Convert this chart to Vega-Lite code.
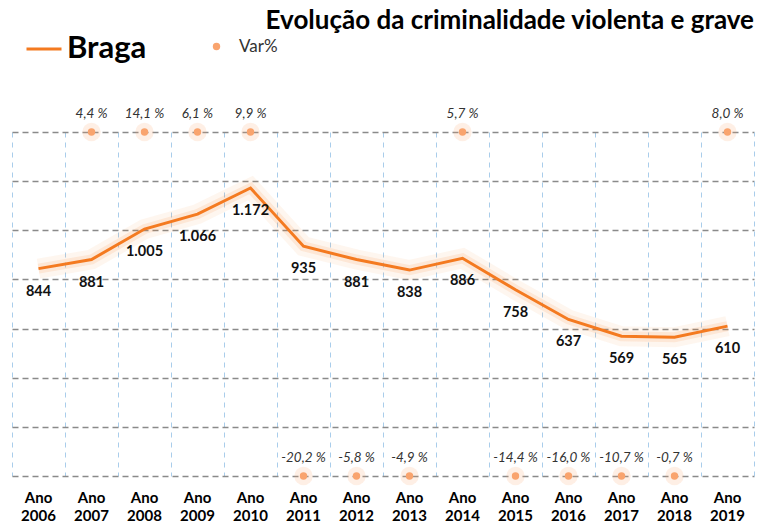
{
  "$schema": "https://vega.github.io/schema/vega-lite/v6.json",
  "width": 742,
  "height": 344,
  "autosize": "none",
  "padding": {"left": 12, "top": 132, "right": 6, "bottom": 49},
  "background": "white",
  "config": {"font": "Lato", "view": {"stroke": null}},
  "title": {"text": "Evolução da criminalidade violenta e grave", "anchor": "end", "frame": "group", "fontSize": 26, "fontWeight": "bold", "color": "#000", "font": "Lato", "offset": -4},
  "data": {"values": [
    {"year": "2006", "value": 844, "var": null},
    {"year": "2007", "value": 881, "var": 4.4},
    {"year": "2008", "value": 1005, "var": 14.1},
    {"year": "2009", "value": 1066, "var": 6.1},
    {"year": "2010", "value": 1172, "var": 9.9},
    {"year": "2011", "value": 935, "var": -20.2},
    {"year": "2012", "value": 881, "var": -5.8},
    {"year": "2013", "value": 838, "var": -4.9},
    {"year": "2014", "value": 886, "var": 5.7},
    {"year": "2015", "value": 758, "var": -14.4},
    {"year": "2016", "value": 637, "var": -16.0},
    {"year": "2017", "value": 569, "var": -10.7},
    {"year": "2018", "value": 565, "var": -0.7},
    {"year": "2019", "value": 610, "var": 8.0}
  ]},
  "resolve": {"scale": {"y": "independent"}, "axis": {"x": "independent", "y": "independent"}},
  "layer": [
    {
      "mark": {"type": "line", "stroke": "#F47A20", "strokeWidth": 20, "opacity": 0.07},
      "encoding": {
        "x": {"field": "year", "type": "ordinal", "scale": {"type": "band", "paddingInner": 0, "paddingOuter": 0},
          "axis": {"orient": "bottom", "bandPosition": 0, "grid": true, "gridColor": "#A9CDEB", "gridDash": [5, 5], "gridWidth": 1, "labels": false, "ticks": false, "domain": false, "title": null}},
        "y": {"field": "value", "type": "quantitative", "scale": {"domain": [0, 1400]},
          "axis": {"orient": "left", "values": [0, 200, 400, 600, 800, 1000, 1200, 1400], "grid": true, "gridColor": "#8a8a8a", "gridDash": [6, 4], "gridWidth": 1.3, "labels": false, "ticks": false, "domain": false, "title": null}}
      }
    },
    {
      "mark": {"type": "line", "stroke": "#F47A20", "strokeWidth": 10, "opacity": 0.12},
      "encoding": {
        "x": {"field": "year", "type": "ordinal", "axis": null},
        "y": {"field": "value", "type": "quantitative", "scale": {"domain": [0, 1400]},
          "axis": {"orient": "right", "values": [0], "labels": false, "ticks": false, "grid": false, "domain": true, "domainColor": "#A9CDEB", "domainDash": [5, 5], "domainWidth": 1, "title": null}}
      }
    },
    {
      "mark": {"type": "line", "strokeWidth": 3},
      "encoding": {
        "x": {"field": "year", "type": "ordinal",
          "axis": {"orient": "bottom", "labelExpr": "['Ano', datum.label]", "labelFontSize": 15, "labelFontWeight": "bold", "labelColor": "#000", "labelLineHeight": 18, "labelPadding": 14, "labelAngle": 0, "ticks": false, "domain": false, "grid": false, "title": null}},
        "y": {"field": "value", "type": "quantitative", "scale": {"domain": [0, 1400]}, "axis": null},
        "color": {"datum": "Braga", "scale": {"range": ["#F47A20"]},
          "legend": {"orient": "none", "legendX": 13, "legendY": -102, "title": null, "symbolType": "stroke", "symbolSize": 1225, "symbolStrokeWidth": 3, "labelFontSize": 31, "labelFont": "Lato", "labelFontWeight": "bold", "labelColor": "#000", "padding": 0, "labelOffset": 4}}
      }
    },
    {
      "transform": [{"calculate": "replace(format(datum.value, ','), ',', '.')", "as": "lbl"}],
      "mark": {"type": "text", "dy": 23, "fontSize": 14.5, "fontWeight": "bold", "color": "#111"},
      "encoding": {
        "x": {"field": "year", "type": "ordinal", "axis": null},
        "y": {"field": "value", "type": "quantitative", "scale": {"domain": [0, 1400]}, "axis": null},
        "text": {"field": "lbl"}
      }
    },
    {
      "transform": [{"filter": "isValid(datum.var)"}],
      "mark": {"type": "point", "filled": true, "color": "#F9A46E", "size": 340, "opacity": 0.18},
      "encoding": {
        "x": {"field": "year", "type": "ordinal", "axis": null},
        "y": {"field": "var", "type": "quantitative", "scale": {"domain": [-0.01, 0.01], "clamp": true}, "axis": null}
      }
    },
    {
      "transform": [{"filter": "isValid(datum.var)"}],
      "mark": {"type": "point", "filled": true, "size": 55, "opacity": 1},
      "encoding": {
        "x": {"field": "year", "type": "ordinal", "axis": null},
        "y": {"field": "var", "type": "quantitative", "scale": {"domain": [-0.01, 0.01], "clamp": true}, "axis": null},
        "fill": {"datum": "Var%", "scale": {"range": ["#F9A46E"]},
          "legend": {"orient": "none", "legendX": 196, "legendY": -94, "title": null, "symbolType": "circle", "symbolSize": 55, "symbolStrokeWidth": 0, "labelFontSize": 17, "labelFont": "Lato", "labelColor": "#333", "padding": 0, "labelOffset": 14}}
      }
    },
    {
      "transform": [{"filter": "isValid(datum.var)"}, {"calculate": "replace(replace(format(datum.var, '.1f'), '.', ','), '\u2212', '-') + ' %'", "as": "vl"}],
      "mark": {"type": "text", "dy": -18, "fontSize": 13.5, "fontStyle": "italic", "color": "#333"},
      "encoding": {
        "x": {"field": "year", "type": "ordinal", "axis": null},
        "y": {"field": "var", "type": "quantitative", "scale": {"domain": [-0.01, 0.01], "clamp": true}, "axis": null},
        "text": {"field": "vl"}
      }
    }
  ]
}
